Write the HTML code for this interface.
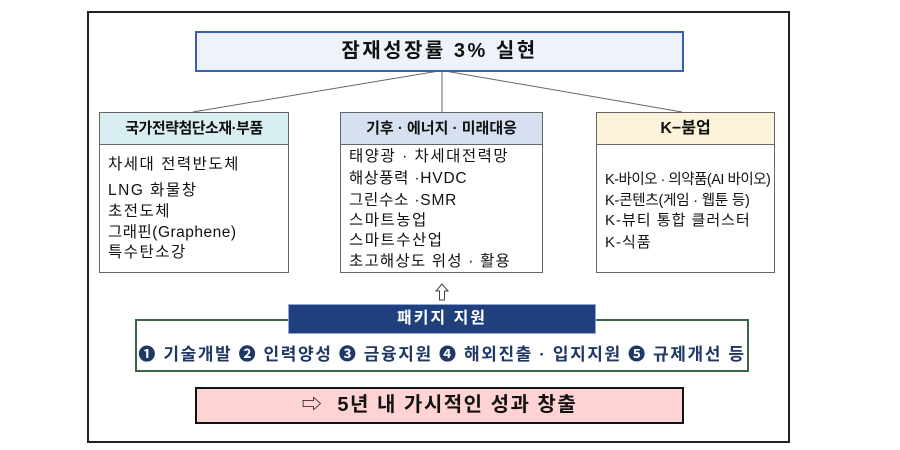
<!DOCTYPE html>
<html><head><meta charset="utf-8"><style>
body{margin:0;width:900px;height:450px;background:#fff;position:relative;overflow:hidden;font-family:"Liberation Sans","Noto Sans CJK KR",sans-serif;color:#111}
.a{position:absolute;box-sizing:border-box}
.hd{font-weight:bold;font-size:15px;text-align:center;line-height:31px;border-bottom:1px solid #666}
.ln{position:absolute;left:8px;font-size:15.5px;white-space:nowrap;letter-spacing:1.5px}
</style></head><body>
<div class="a" style="left:87px;top:11px;width:703px;height:432px;border:2px solid #222"></div>
<svg class="a" style="left:0;top:0" width="900" height="450">
<g stroke="#666" stroke-width="1" fill="none">
<line x1="439" y1="71" x2="193" y2="112"/>
<line x1="442" y1="71" x2="442" y2="112"/>
<line x1="445" y1="71" x2="682" y2="112"/>
</g>
<path d="M442 284 L436 291 L439.5 291 L439.5 300 L444.5 300 L444.5 291 L448 291 Z" fill="#fff" stroke="#444" stroke-width="1"/>
</svg>
<div class="a" style="left:195px;top:31px;width:489px;height:41px;border:2px solid #3a5fb0;background:#eef2fa;text-align:center;font-size:20px;font-weight:bold;line-height:37px;letter-spacing:2.5px">잠재성장률 3% 실현</div>

<div class="a" style="left:99px;top:112px;width:190px;height:161px;border:1px solid #666">
<div class="hd" style="background:#d9eef0;letter-spacing:-0.5px">국가전략첨단소재·부품</div>
<div class="ln" style="top:39px">차세대 전력반도체</div>
<div class="ln" style="top:65px">LNG 화물창</div>
<div class="ln" style="top:86px">초전도체</div>
<div class="ln" style="top:107px;letter-spacing:0.5px">그래핀(Graphene)</div>
<div class="ln" style="top:127px">특수탄소강</div>
</div>

<div class="a" style="left:340px;top:112px;width:203px;height:161px;border:1px solid #666">
<div class="hd" style="background:#d6e0f0">기후 · 에너지 · 미래대응</div>
<div class="ln" style="top:31px">태양광 · 차세대전력망</div>
<div class="ln" style="top:53px;letter-spacing:0.8px">해상풍력 ·HVDC</div>
<div class="ln" style="top:75px;letter-spacing:0.8px">그린수소 ·SMR</div>
<div class="ln" style="top:95px">스마트농업</div>
<div class="ln" style="top:115px">스마트수산업</div>
<div class="ln" style="top:136px;letter-spacing:1.2px">초고해상도 위성 · 활용</div>
</div>

<div class="a" style="left:596px;top:112px;width:179px;height:161px;border:1px solid #666">
<div class="hd" style="background:#fcf3da;font-size:16px">K−붐업</div>
<div class="ln" style="top:55px;font-size:14.5px;letter-spacing:-0.5px">K-바이오 · 의약품(AI 바이오)</div>
<div class="ln" style="top:76px;font-size:14.5px;letter-spacing:-0.2px">K-콘텐츠(게임 · 웹툰 등)</div>
<div class="ln" style="top:96px;font-size:15px;letter-spacing:1px">K-뷰티 통합 클러스터</div>
<div class="ln" style="top:118px;font-size:15px;letter-spacing:1px">K-식품</div>
</div>

<div class="a" style="left:135px;top:319px;width:614px;height:53px;border:2px solid #3d6446;background:#fff"></div>
<div class="a" style="left:135px;top:340px;width:614px;text-align:center;font-size:17px;font-weight:bold;color:#1f3864;white-space:nowrap;letter-spacing:1.6px">❶ 기술개발 ❷ 인력양성 ❸ 금융지원 ❹ 해외진출 · 입지지원 ❺ 규제개선 등</div>
<div class="a" style="left:288px;top:304px;width:308px;height:30px;background:#203f7d;border:1px solid #8fa6d6;color:#fff;text-align:center;font-weight:bold;font-size:16px;line-height:28px;letter-spacing:2px">패키지 지원</div>

<div class="a" style="left:195px;top:387px;width:489px;height:37px;border:2px solid #111;background:#ffd3d3;text-align:center;font-size:20px;font-weight:bold;line-height:33px;letter-spacing:1.5px"><span style="font-weight:normal">⇨</span>&nbsp; 5년 내 가시적인 성과 창출</div>
</body></html>
